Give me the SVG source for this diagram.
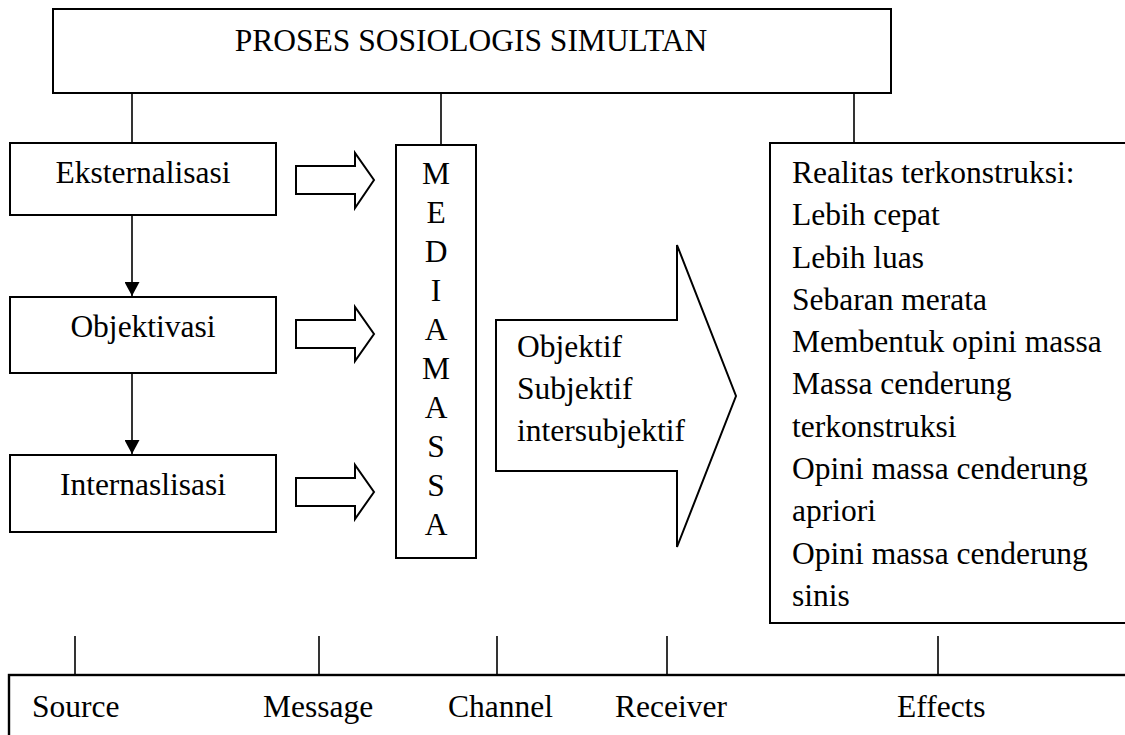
<svg xmlns="http://www.w3.org/2000/svg" width="1125" height="735" viewBox="0 0 1125 735">
  <style>
    .box { fill: #fff; stroke: #000; stroke-width: 2; }
    .line { fill: none; stroke: #000; stroke-width: 1.6; }
    .blk { fill: #fff; stroke: #000; stroke-width: 2; stroke-linejoin: miter; }
    text { font-family: "Liberation Serif", "Times New Roman", serif; font-size: 31.5px; fill: #000; }
    .mid { text-anchor: middle; }
  </style>
  <defs>
    <marker id="tri" viewBox="0 0 14 15" refX="14" refY="7.5" markerWidth="14" markerHeight="15" markerUnits="userSpaceOnUse" orient="auto">
      <path d="M0,0 L14,7.5 L0,15 Z" fill="#000"/>
    </marker>
  </defs>

  <rect width="1125" height="735" fill="#fff"/>

  <!-- connectors -->
  <g id="connectors">
    <line class="line" x1="132" y1="93" x2="132" y2="143"/>
    <line class="line" x1="441" y1="93" x2="441" y2="145"/>
    <line class="line" x1="854" y1="93" x2="854" y2="143"/>
    <line class="line" x1="132" y1="215" x2="132" y2="296" marker-end="url(#tri)"/>
    <line class="line" x1="132" y1="373" x2="132" y2="454" marker-end="url(#tri)"/>
    <!-- block arrows into the media column -->
    <path class="blk" d="M296,166 H355 V153 L374,180 L355,208 V194 H296 Z"/>
    <path class="blk" d="M296,320 H355 V307 L374,334 L355,361 V348 H296 Z"/>
    <path class="blk" d="M296,478 H355 V465 L374,492 L355,519 V506 H296 Z"/>
    <!-- ticks down to the communication row -->
    <line class="line" x1="75" y1="636" x2="75" y2="675"/>
    <line class="line" x1="319" y1="636" x2="319" y2="675"/>
    <line class="line" x1="497" y1="636" x2="497" y2="675"/>
    <line class="line" x1="667" y1="636" x2="667" y2="675"/>
    <line class="line" x1="938" y1="636" x2="938" y2="675"/>
  </g>

  <g id="title">
    <rect class="box" x="53" y="9" width="838" height="84"/>
    <text class="mid" x="471" y="51">PROSES SOSIOLOGIS SIMULTAN</text>
  </g>

  <g id="eksternalisasi">
    <rect class="box" x="10" y="143" width="266" height="72"/>
    <text class="mid" x="143" y="183">Eksternalisasi</text>
  </g>

  <g id="objektivasi">
    <rect class="box" x="10" y="297" width="266" height="76"/>
    <text class="mid" x="143" y="337">Objektivasi</text>
  </g>

  <g id="internalisasi">
    <rect class="box" x="10" y="455" width="266" height="77"/>
    <text class="mid" x="143" y="495">Internaslisasi</text>
  </g>

  <g id="media-massa">
    <rect class="box" x="396" y="145" width="80" height="413"/>
    <text class="mid" x="436" y="184">M</text>
    <text class="mid" x="436" y="223">E</text>
    <text class="mid" x="436" y="262">D</text>
    <text class="mid" x="436" y="301">I</text>
    <text class="mid" x="436" y="340">A</text>
    <text class="mid" x="436" y="379">M</text>
    <text class="mid" x="436" y="418">A</text>
    <text class="mid" x="436" y="457">S</text>
    <text class="mid" x="436" y="496">S</text>
    <text class="mid" x="436" y="535">A</text>
  </g>

  <g id="channel-arrow">
    <path class="blk" d="M496,320 H677 V245 L736,396 L677,547 V471 H496 Z"/>
    <text x="517" y="357">Objektif</text>
    <text x="517" y="399">Subjektif</text>
    <text x="517" y="441">intersubjektif</text>
  </g>

  <g id="realitas">
    <rect class="box" x="770" y="143" width="370" height="480"/>
    <text x="792" y="183">Realitas terkonstruksi:</text>
    <text x="792" y="225">Lebih cepat</text>
    <text x="792" y="268">Lebih luas</text>
    <text x="792" y="310">Sebaran merata</text>
    <text x="792" y="352">Membentuk opini massa</text>
    <text x="792" y="394">Massa cenderung</text>
    <text x="792" y="437">terkonstruksi</text>
    <text x="792" y="479">Opini massa cenderung</text>
    <text x="792" y="521">apriori</text>
    <text x="792" y="564">Opini massa cenderung</text>
    <text x="792" y="606">sinis</text>
  </g>

  <g id="smcre">
    <rect class="box" x="9" y="675" width="1130" height="70" style="stroke-width:2.4"/>
    <text x="32" y="717">Source</text>
    <text x="263" y="717">Message</text>
    <text x="448" y="717">Channel</text>
    <text x="615" y="717">Receiver</text>
    <text x="897" y="717">Effects</text>
  </g>
</svg>
